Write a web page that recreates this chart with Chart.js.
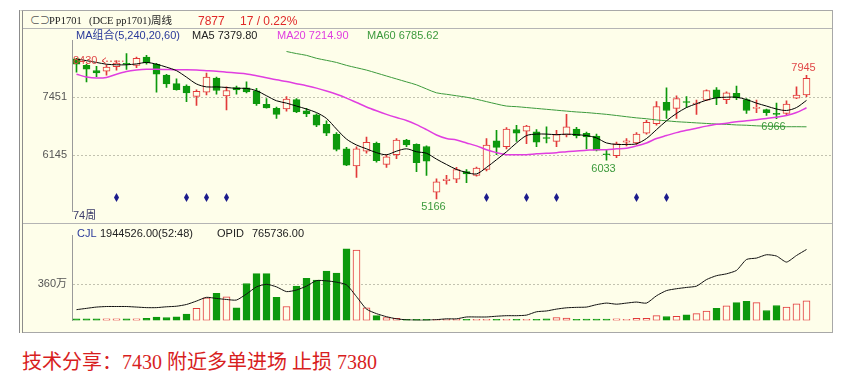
<!DOCTYPE html>
<html lang="zh">
<head>
  <meta charset="UTF-8">
  <title>PP1701 周线</title>
  <script src="https://cdn.jsdelivr.net/npm/chart.js"></script>
  <style>
    body {
      margin: 0;
      width: 842px;
      height: 390px;
      position: relative;
      overflow: hidden;
      background: #fff;
      font-family: "Liberation Sans", "Noto Sans CJK SC", sans-serif;
    }
    .frame {
      position: absolute;
      left: 19px;
      top: 10px;
      width: 814px;
      height: 323px;
      box-sizing: border-box;
      background: #fefeea;
      border-left: 4px double #8c8c8c;
      border-top: 1px solid #a8a8a8;
      border-right: 1px solid #a8a8a8;
    }
    .hline {
      position: absolute;
      left: 23px;
      width: 809px;
      height: 1px;
      background: #b4b4b4;
    }
    canvas {
      position: absolute;
      left: 22px;
    }
    .t {
      position: absolute;
      white-space: nowrap;
      font-size: 11px;
      line-height: 14px;
    }
    .serif { font-family: "Liberation Serif", "Noto Sans CJK SC", serif; font-size: 10.5px; }
    .note {
      position: absolute;
      left: 22px;
      top: 350px;
      font-family: "Liberation Serif", "Noto Sans CJK SC", serif;
      font-size: 20px;
      line-height: 24px;
      color: #d81e1e;
      white-space: nowrap;
    }
  </style>
</head>
<body>
  <div class="frame"></div>
  <div class="hline" style="top:28px"></div>
  <div class="hline" style="top:223px"></div>
  <div class="hline" style="top:332px; background:#a8a8a8"></div>

  <canvas id="price" width="810" height="194" style="top:29px"></canvas>
  <canvas id="volume" width="810" height="108" style="top:224px"></canvas>

  <!-- header -->
  <div class="t" style="left:30px; top:14px; font-size:10px; color:#555">⊂⊃</div>
  <div class="t serif" style="left:49px; top:14px; color:#222">PP1701</div>
  <div class="t serif" style="left:89px; top:14px; color:#222">(DCE pp1701)周线</div>
  <div class="t" style="left:198px; top:14px; font-size:12px; color:#e02828">7877</div>
  <div class="t" style="left:240px; top:14px; font-size:12px; color:#e02828">17 / 0.22%</div>

  <div class="t" style="left:76px; top:28px; color:#2a3a9a">MA组合(5,240,20,60)</div>
  <div class="t" style="left:192px; top:28px; color:#222">MA5 7379.80</div>
  <div class="t" style="left:277px; top:28px; color:#e03ee0">MA20 7214.90</div>
  <div class="t" style="left:367px; top:28px; color:#3c9a3c">MA60 6785.62</div>

  <div class="t" style="left:73px; top:208px; color:#3a3a6a">74周</div>

  <div class="t" style="left:77px; top:226px; color:#2a3a9a">CJL</div>
  <div class="t" style="left:100px; top:226px; color:#222">1944526.00(52:48)</div>
  <div class="t" style="left:217px; top:226px; color:#222">OPID</div>
  <div class="t" style="left:252px; top:226px; color:#222">765736.00</div>

  <div class="note">技术分享：7430 附近多单进场 止损 7380</div>

  <script>
    // weekly candles, PP1701
    const opens = [8313, 8167, 8048, 8034, 8140, 8207, 8167, 8353, 8193, 7948,
      7756, 7703, 7471, 7564, 7882, 7478, 7670, 7663, 7597, 7292,
      7199, 7186, 7398, 7146, 7053, 6841, 6622, 6291, 5906, 6238,
      6417, 5940, 6158, 6490, 6390, 6344, 5316, 5575, 5608, 5780,
      5694, 5827, 6470, 6337, 6722, 6689, 6675, 6543, 6457, 6602,
      6735, 6642, 6576, 6178, 6138, 6443, 6423, 6642, 6854, 7338,
      7199, 7352, 7299, 7385, 7617, 7398, 7537, 7398, 7199, 7173,
      7086, 7086, 7431, 7504];
    const highs = [8326, 8193, 8147, 8180, 8273, 8430, 8353, 8392, 8213, 7968,
      7862, 7729, 7617, 7995, 7902, 7683, 7703, 7796, 7650, 7418,
      7232, 7464, 7418, 7199, 7080, 6921, 6656, 6324, 6337, 6556,
      6443, 6158, 6523, 6503, 6404, 6357, 5615, 5694, 5873, 5827,
      5880, 6523, 6709, 6768, 6821, 6821, 6722, 6788, 6709, 7067,
      6775, 6669, 6622, 6258, 6443, 6523, 6656, 6934, 7352, 7663,
      7484, 7464, 7385, 7617, 7670, 7570, 7703, 7418, 7385, 7186,
      7318, 7371, 7683, 7945];
    const lows = [8014, 7796, 7915, 7948, 8061, 8074, 8114, 8193, 7564, 7670,
      7610, 7352, 7265, 7504, 7517, 7166, 7517, 7550, 7265, 7206,
      6974, 7139, 7106, 7013, 6788, 6589, 6245, 5913, 5648, 6191,
      5993, 5873, 6072, 6337, 5780, 5694, 5166, 5495, 5529, 5529,
      5674, 5794, 6158, 6291, 6457, 6404, 6337, 6423, 6337, 6556,
      6536, 6291, 6245, 6033, 6092, 6357, 6390, 6622, 6821, 6974,
      6974, 7219, 7067, 7371, 7285, 7305, 7398, 7086, 7106, 7040,
      6966, 7040, 7418, 7464];
    const closes = [8193, 8081, 7995, 8127, 8220, 8193, 8326, 8220, 7968, 7749,
      7623, 7550, 7584, 7902, 7603, 7603, 7617, 7570, 7305, 7212,
      7067, 7411, 7120, 7073, 6821, 6642, 6278, 5926, 6291, 6437,
      6026, 6112, 6490, 6377, 5979, 6013, 5548, 5608, 5827, 5727,
      5860, 6377, 6324, 6735, 6642, 6801, 6443, 6523, 6609, 6788,
      6589, 6556, 6258, 6158, 6404, 6470, 6622, 6888, 7239, 7153,
      7418, 7332, 7318, 7603, 7438, 7550, 7438, 7153, 7219, 7106,
      7067, 7299, 7497, 7877];

    // moving averages as plotted (longer history behind them)
    const ma5 = [8313, 8273, 8233, 8193, 8180, 8180, 8200, 8233, 8193, 8127,
      8048, 7902, 7749, 7683, 7683, 7670, 7650, 7650, 7597, 7484,
      7371, 7318, 7252, 7186, 7106, 6974, 6735, 6510, 6377, 6291,
      6205, 6158, 6238, 6291, 6225, 6191, 6059, 5939, 5827, 5761,
      5727, 5873, 6046, 6225, 6423, 6589, 6622, 6622, 6609, 6622,
      6609, 6589, 6536, 6423, 6390, 6390, 6404, 6523, 6722, 6921,
      7086, 7219, 7305, 7385, 7438, 7451, 7451, 7398, 7318, 7252,
      7186, 7153, 7219, 7380];
    const ma20 = [7968, 7908, 7882, 7895, 7968, 8028, 8061, 8081, 8081, 8074,
      8068, 8068, 8061, 8048, 8034, 8014, 7995, 7975, 7935, 7888,
      7842, 7802, 7756, 7710, 7656, 7590, 7517, 7431, 7332, 7232,
      7146, 7066, 6994, 6927, 6834, 6722, 6602, 6523, 6490, 6423,
      6357, 6271, 6205, 6158, 6158, 6158, 6178, 6191, 6205, 6225,
      6244, 6258, 6271, 6271, 6291, 6304, 6357, 6423, 6523, 6589,
      6655, 6708, 6755, 6801, 6841, 6868, 6901, 6921, 6947, 6974,
      7000, 7040, 7106, 7215];
    const ma60 = [null, null, null, null, null, null, null, null, null, null,
      null, null, null, null, null, null, null, null, null, null,
      null, 8479, 8432, 8392, 8326, 8280, 8233, 8167, 8114, 8061,
      7995, 7928, 7862, 7796, 7729, 7637, 7550, 7517, 7484, 7451,
      7405, 7352, 7299, 7252, 7239, 7219, 7199, 7179, 7159, 7139,
      7120, 7106, 7086, 7066, 7040, 7013, 6987, 6967, 6940, 6921,
      6901, 6888, 6874, 6861, 6848, 6841, 6828, 6821, 6808, 6801,
      6795, 6788, 6788, 6786];

    // CJL (volume) and OPID (open interest)
    const volume = [150000, 160000, 155000, 150000, 160000, 150000, 155000, 210000, 340000, 290000,
      365000, 626000, 1200000, 2243000, 2687000, 2348000, 1252000, 3678000, 4670000, 4670000,
      2296000, 1383000, 3417000, 4200000, 4017000, 4904000, 4722000, 7122000, 7017000, 1252000,
      470000, 287000, 209000, 104000, 100000, 100000, 90000, 90000, 90000, 90000,
      100000, 100000, 100000, 100000, 100000, 100000, 100000, 157000, 287000, 235000,
      100000, 130000, 130000, 130000, 157000, 100000, 209000, 209000, 470000, 391000,
      417000, 548000, 678000, 939000, 1200000, 1461000, 1774000, 1904000, 1774000, 991000,
      1487000, 1330000, 1643000, 1944526];
    const openInterest = [115900, 130000, 144000, 150000, 150000, 150000, 144000, 138000, 138000, 147000,
      153000, 172000, 209000, 249000, 237000, 226000, 220000, 285000, 362000, 390000,
      362000, 311000, 328000, 370000, 430000, 427000, 413000, 384000, 257000, 122000,
      73000, 40000, 17000, 6000, 2000, 2000, 8000, 17000, 17000, 37000,
      37000, 37000, 45000, 51000, 51000, 57000, 93000, 102000, 122000, 136000,
      141000, 144000, 170000, 187000, 175000, 187000, 198000, 187000, 266000, 322000,
      342000, 356000, 370000, 441000, 483000, 503000, 540000, 658000, 673000, 709000,
      695000, 630000, 701000, 765736];

    const priceTicks = [6145, 7451];
    const volumeTicks = [3600000];
    const signalWeeks = [4, 11, 13, 15, 41, 45, 48, 56, 59];
    const highMarks = [73];
    const lowMarks = [36, 53, 70];
    const windowHigh = 5;

    const RED = '#e23a3a';
    const GREEN = '#0d990d';
    const BG = '#fefeea';

    const weeks = opens.map((_, i) => i);
    const isUp = i => closes[i] >= opens[i];
    const lineColor = weeks.map(i => isUp(i) ? RED : GREEN);
    const fillColor = weeks.map(i => isUp(i) ? BG : GREEN);
    const pts = arr => arr.map((v, i) => ({x: i, y: v}));

    Chart.defaults.font.family = '"Liberation Sans", "Noto Sans CJK SC", sans-serif';

    const xAxis = {type: 'linear', display: false, offset: false, min: -0.45, max: 75.55};

    function leftAxis(min, max, tickList, fmt) {
      return {
        min: min,
        max: max,
        afterBuildTicks: s => { s.ticks = tickList.map(v => ({value: v})); },
        afterFit: s => { s.width = 50; },
        grid: {color: '#c2c2b0', lineWidth: 1, drawTicks: false},
        border: {color: '#9a9a9a', dash: [2, 2]},
        ticks: {color: '#555', font: {size: 11}, padding: 5, callback: fmt}
      };
    }

    const baseOptions = {
      responsive: false,
      animation: false,
      events: [],
      layout: {padding: 0, autoPadding: false},
      plugins: {legend: {display: false}, tooltip: {enabled: false}}
    };

    // labels drawn on top of the price panel
    const priceMarks = {
      id: 'priceMarks',
      afterDatasetsDraw(chart) {
        const {ctx, chartArea} = chart;
        const x = chart.scales.x, y = chart.scales.y;
        ctx.save();

        ctx.fillStyle = '#1c1c8c';
        signalWeeks.forEach(i => {
          const px = x.getPixelForValue(i), py = chartArea.bottom - 14;
          ctx.beginPath();
          ctx.moveTo(px, py - 4.5);
          ctx.lineTo(px + 2.5, py);
          ctx.lineTo(px, py + 4.5);
          ctx.lineTo(px - 2.5, py);
          ctx.closePath();
          ctx.fill();
        });

        ctx.font = '11px "Liberation Sans"';
        ctx.textAlign = 'center';
        ctx.textBaseline = 'middle';
        ctx.fillStyle = '#e04848';
        highMarks.forEach(i => {
          ctx.fillText(String(highs[i]), x.getPixelForValue(i) - 3, y.getPixelForValue(highs[i]) - 7);
        });
        ctx.fillStyle = '#3c9a3c';
        lowMarks.forEach(i => {
          ctx.fillText(String(lows[i]), x.getPixelForValue(i) - 3, y.getPixelForValue(lows[i]) + 8.5);
        });

        // window high, pinned to the left edge with an arrow
        const hy = y.getPixelForValue(highs[windowHigh]) + 7;
        const left = chartArea.left + 1;
        ctx.textAlign = 'left';
        ctx.fillStyle = '#e04848';
        ctx.fillText(String(highs[windowHigh]), left, hy);
        ctx.strokeStyle = '#e04848';
        ctx.lineWidth = 1;
        ctx.beginPath();
        ctx.moveTo(left + 33, hy - 3);
        ctx.lineTo(left + 29, hy);
        ctx.lineTo(left + 33, hy + 3);
        ctx.stroke();
        ctx.setLineDash([2, 2]);
        ctx.beginPath();
        ctx.moveTo(left + 29, hy + 0.5);
        ctx.lineTo(x.getPixelForValue(windowHigh) - 3, hy + 0.5);
        ctx.stroke();
        ctx.restore();
      }
    };

    new Chart(document.getElementById('price'), {
      type: 'bar',
      data: {
        datasets: [
          {type: 'line', data: pts(ma5), borderColor: '#000', borderWidth: 1, pointRadius: 0, tension: 0.3, order: 0},
          {type: 'line', data: pts(ma20), borderColor: '#e03ee0', borderWidth: 1.5, pointRadius: 0, tension: 0.3, order: 0},
          {type: 'line', data: pts(ma60), borderColor: '#3c9a3c', borderWidth: 1, pointRadius: 0, tension: 0.3, spanGaps: false, order: 0},
          {
            data: weeks.map(i => ({x: i, y: [opens[i], closes[i]]})),
            backgroundColor: fillColor, borderColor: lineColor, borderWidth: 1,
            borderSkipped: false, barThickness: 7, grouped: false, minBarLength: 1, order: 1
          },
          {
            data: weeks.map(i => ({x: i, y: [lows[i], highs[i]]})),
            backgroundColor: lineColor, borderWidth: 0,
            barThickness: 1, grouped: false, order: 2
          }
        ]
      },
      options: Object.assign({}, baseOptions, {
        scales: {
          x: xAxis,
          y: leftAxis(4884, 8724, priceTicks, v => String(v))
        }
      }),
      plugins: [priceMarks]
    });

    new Chart(document.getElementById('volume'), {
      type: 'bar',
      data: {
        datasets: [
          {
            type: 'line', data: pts(openInterest), yAxisID: 'yo',
            borderColor: '#111', borderWidth: 1, pointRadius: 0, tension: 0.2, order: 0
          },
          {
            data: pts(volume), yAxisID: 'y',
            backgroundColor: fillColor, borderColor: lineColor, borderWidth: 1,
            borderSkipped: false, barThickness: 7, grouped: false, minBarLength: 1, order: 1
          }
        ]
      },
      options: Object.assign({}, baseOptions, {
        scales: {
          x: xAxis,
          y: leftAxis(0, 8452000, volumeTicks, v => (v / 10000) + '万'),
          yo: {display: false, position: 'right', min: 0, max: 915800}
        }
      })
    });
  </script>
</body>
</html>
